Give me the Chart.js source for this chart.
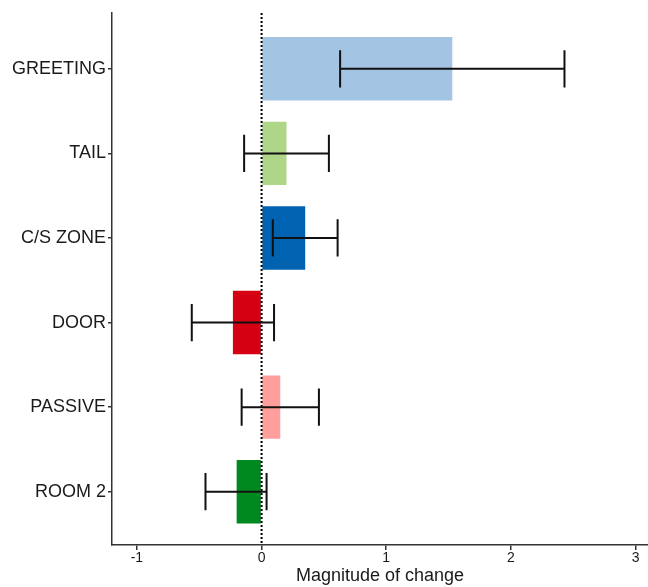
<!DOCTYPE html>
<html>
<head>
<meta charset="utf-8">
<script src="https://cdn.jsdelivr.net/npm/chart.js@4.4.1/dist/chart.umd.min.js"></script>
<style>
  html, body { margin: 0; padding: 0; background: #fff; }
  #wrap { width: 648px; height: 587px; position: relative; }
</style>
</head>
<body>
<div id="wrap"><canvas id="effectChart"></canvas></div>
<script>
// data
const categories = ['GREETING', 'TAIL', 'C/S ZONE', 'DOOR', 'PASSIVE', 'ROOM 2'];
const magnitude  = [1.53, 0.20, 0.35, -0.23, 0.15, -0.20];
const errLow     = [0.63, -0.14, 0.09, -0.56, -0.16, -0.45];
const errHigh    = [2.43, 0.54, 0.61, 0.10, 0.46, 0.04];
const barColors  = ['#a3c4e3', '#aed588', '#0062b0', '#d50012', '#ff9e9b', '#00891e'];
const xTicks     = [-1, 0, 1, 2, 3];

const txt = '#1a1a1a';
const axisCol = '#333';

// error bars + dotted zero line, drawn through the chart scales
const errorBars = {
  id: 'errorBars',
  afterDatasetsDraw(chart) {
    const { ctx, chartArea, scales: { x, y } } = chart;
    ctx.save();
    // zero reference line
    const x0 = x.getPixelForValue(0);
    ctx.strokeStyle = '#000';
    ctx.lineWidth = 2;
    ctx.setLineDash([2, 2]);
    ctx.beginPath();
    ctx.moveTo(x0, chartArea.top);
    ctx.lineTo(x0, chartArea.bottom);
    ctx.stroke();
    ctx.setLineDash([]);

    ctx.strokeStyle = '#111';
    ctx.lineWidth = 2;
    categories.forEach((c, i) => {
      const yc = y.getPixelForValue(i);
      const yt = y.getPixelForValue(i - 0.22);
      const yb = y.getPixelForValue(i + 0.22);
      const xl = x.getPixelForValue(errLow[i]);
      const xh = x.getPixelForValue(errHigh[i]);
      ctx.beginPath();
      ctx.moveTo(xl, yc); ctx.lineTo(xh, yc);
      ctx.moveTo(xl, yt); ctx.lineTo(xl, yb);
      ctx.moveTo(xh, yt); ctx.lineTo(xh, yb);
      ctx.stroke();
    });
    ctx.restore();
  }
};

(function () {
  const el = document.getElementById('effectChart');
  if (!el) return;
  new Chart(el.getContext('2d'), {
    type: 'bar',
    data: {
      datasets: [{
        data: magnitude.map((v, i) => ({ x: v, y: i })),
        backgroundColor: barColors,
        borderWidth: 0,
        barPercentage: 0.75,
        categoryPercentage: 1
      }]
    },
    options: {
      indexAxis: 'y',
      responsive: true,
      maintainAspectRatio: false,
      animation: false,
      layout: { padding: { top: 13, right: 0, left: 0, bottom: 0 } },
      plugins: {
        legend: { display: false },
        tooltip: { enabled: false }
      },
      scales: {
        x: {
          type: 'linear',
          min: -1.2,
          max: 3.1,
          afterBuildTicks: s => { s.ticks = xTicks.map(v => ({ value: v })); },
          afterFit: s => { s.height = 42; },
          border: { display: true, color: axisCol, width: 1.5 },
          grid: { drawOnChartArea: false, tickLength: 5, tickColor: axisCol, lineWidth: 1.5 },
          ticks: {
            color: txt,
            padding: 0,
            maxRotation: 0,
            font: { family: '"Liberation Sans", Arial, sans-serif', size: 14 }
          },
          title: {
            display: true,
            text: 'Magnitude of change',
            color: txt,
            padding: { top: 0, bottom: 0 },
            font: { family: '"Liberation Sans", Arial, sans-serif', size: 18 }
          }
        },
        y: {
          type: 'linear',
          reverse: true,
          offset: false,
          min: -0.66,
          max: 5.63,
          afterBuildTicks: s => { s.ticks = categories.map((c, i) => ({ value: i })); },
          afterFit: s => { s.width = 112; },
          border: { display: true, color: axisCol, width: 1.5 },
          grid: { offset: false, drawOnChartArea: false, tickLength: 4, tickColor: axisCol, lineWidth: 1.5 },
          ticks: {
            color: txt,
            padding: 2,
            callback: v => categories[v],
            font: { family: '"Liberation Sans", Arial, sans-serif', size: 18 }
          }
        }
      }
    },
    plugins: [errorBars]
  });
})();
</script>
</body>
</html>
